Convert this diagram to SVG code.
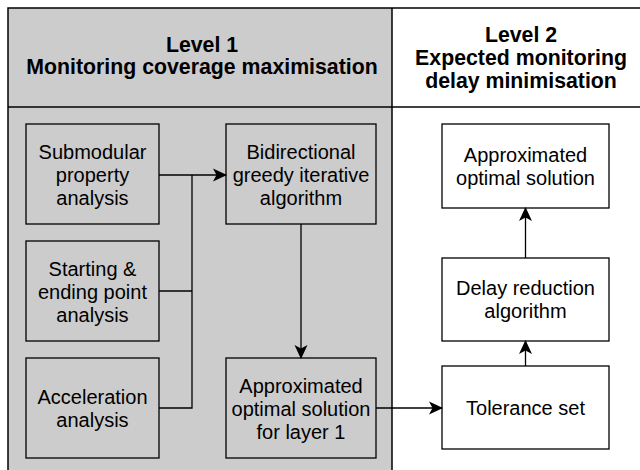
<svg xmlns="http://www.w3.org/2000/svg" width="640" height="470" viewBox="0 0 640 470">
<defs>
<style>
.frame{fill:none;stroke:#000;stroke-width:1.5}
.box{stroke:#000;stroke-width:1.3}
.g{fill:#cccccc}
.w{fill:#ffffff}
.t{font-family:"Liberation Sans",Arial,sans-serif;font-size:20px;fill:#000;text-anchor:middle}
.h{font-family:"Liberation Sans",Arial,sans-serif;font-size:21.3px;font-weight:bold;fill:#000;text-anchor:middle}
.c{fill:none;stroke:#000;stroke-width:1.3}
</style>
<marker id="arr" viewBox="0 0 14 14" refX="13" refY="7" markerWidth="14" markerHeight="14" markerUnits="userSpaceOnUse" orient="auto">
<path d="M0,0.5 L14,7 L0,13.5 L3.5,7 Z" fill="#000"/>
</marker>
</defs>
<rect x="0" y="0" width="640" height="470" fill="#fff"/>
<g id="panels">
<rect x="8" y="8" width="384" height="470" fill="#cccccc"/>
<rect x="8" y="8" width="642" height="470" class="frame"/>
<line x1="8" y1="107" x2="650" y2="107" class="frame"/>
<line x1="392" y1="8" x2="392" y2="478" class="frame"/>
</g>
<g id="header1">
<text class="h" x="202" y="52">Level 1</text>
<text class="h" x="202" y="74">Monitoring coverage maximisation</text>
</g>
<g id="header2">
<text class="h" x="521" y="42">Level 2</text>
<text class="h" x="521" y="65">Expected monitoring</text>
<text class="h" x="521" y="88">delay minimisation</text>
</g>
<g id="submodular">
<rect x="26" y="124" width="133" height="100" class="box g"/>
<text class="t" x="92.5" y="159">Submodular</text>
<text class="t" x="92.5" y="182">property</text>
<text class="t" x="92.5" y="205">analysis</text>
</g>
<g id="starting">
<rect x="26" y="241" width="133" height="100" class="box g"/>
<text class="t" x="92.5" y="276">Starting &amp;</text>
<text class="t" x="92.5" y="299">ending point</text>
<text class="t" x="92.5" y="322">analysis</text>
</g>
<g id="acceleration">
<rect x="26" y="358" width="133" height="100" class="box g"/>
<text class="t" x="92.5" y="404">Acceleration</text>
<text class="t" x="92.5" y="427">analysis</text>
</g>
<g id="bidirectional">
<rect x="226" y="124" width="150" height="100" class="box g"/>
<text class="t" x="301" y="159">Bidirectional</text>
<text class="t" x="301" y="182">greedy iterative</text>
<text class="t" x="301" y="205">algorithm</text>
</g>
<g id="approx1">
<rect x="226" y="358" width="150" height="100" class="box g"/>
<text class="t" x="301" y="393">Approximated</text>
<text class="t" x="301" y="416">optimal solution</text>
<text class="t" x="301" y="439">for layer 1</text>
</g>
<g id="approx2">
<rect x="442" y="124" width="167" height="84" class="box w"/>
<text class="t" x="525.5" y="162">Approximated</text>
<text class="t" x="525.5" y="185">optimal solution</text>
</g>
<g id="delay">
<rect x="442" y="258" width="167" height="83" class="box w"/>
<text class="t" x="525.5" y="295">Delay reduction</text>
<text class="t" x="525.5" y="318">algorithm</text>
</g>
<g id="tolerance">
<rect x="442" y="366" width="167" height="83" class="box w"/>
<text class="t" x="525.5" y="415">Tolerance set</text>
</g>
<g id="connectors">
<line x1="159" y1="175" x2="226" y2="175" class="c" marker-end="url(#arr)"/>
<polyline points="159,291 192,291" class="c"/>
<polyline points="159,408 192,408 192,175" class="c"/>
<line x1="301" y1="224" x2="301" y2="358" class="c" marker-end="url(#arr)"/>
<line x1="376" y1="408" x2="442" y2="408" class="c" marker-end="url(#arr)"/>
<line x1="525.5" y1="366" x2="525.5" y2="341" class="c" marker-end="url(#arr)"/>
<line x1="525.5" y1="258" x2="525.5" y2="208" class="c" marker-end="url(#arr)"/>
</g>
</svg>
